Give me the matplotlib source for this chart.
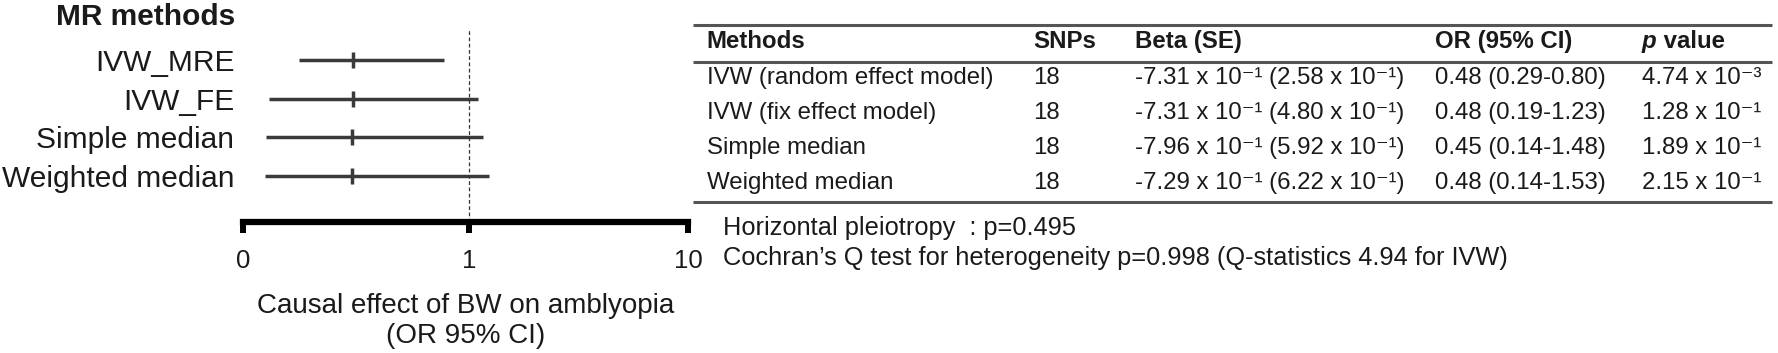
import matplotlib
matplotlib.use("Agg")
import matplotlib.pyplot as plt
from matplotlib.ticker import NullLocator

plt.rcParams['font.family'] = ['Liberation Sans', 'DejaVu Sans']

# forest plot
mr_methods = ['IVW_MRE', 'IVW_FE', 'Simple median', 'Weighted median']
est = [0.489, 0.489, 0.482, 0.482]
ci_low = [0.250, 0.118, 0.103, 0.097]
ci_high = [0.891, 1.10, 1.153, 1.228]
xticks = [0, 1, 10]

# table
tab_methods = ['IVW (random effect model)', 'IVW (fix effect model)',
               'Simple median', 'Weighted median']
snps = [18, 18, 18, 18]
beta = [-7.31, -7.31, -7.96, -7.29]
beta_exp = [-1, -1, -1, -1]
se = [2.58, 4.80, 5.92, 6.22]
se_exp = [-1, -1, -1, -1]
odds = [0.48, 0.48, 0.45, 0.48]
or_lo = [0.29, 0.19, 0.14, 0.14]
or_hi = [0.80, 1.23, 1.48, 1.53]
pval = [4.74, 1.28, 1.89, 2.15]
pval_exp = [-3, -1, -1, -1]
notes = ['Horizontal pleiotropy  : p=0.495',
         'Cochran\u2019s Q test for heterogeneity p=0.998 (Q-statistics 4.94 for IVW)']

SUP = str.maketrans('-0123456789', '\u207b\u2070\u00b9\u00b2\u00b3\u2074\u2075\u2076\u2077\u2078\u2079')


def sci(m, e):
    return '%.2f x 10%s' % (m, str(e).translate(SUP))


W, H = 1778, 353
fig = plt.figure(figsize=(W / 100, H / 100), dpi=100)
txt = '#1a1a1a'
lc = '#3a3a3a'

# ---- forest plot ----
x0, x10, ytop, yax = 242.7, 688, 25, 221.7
ax = fig.add_axes([x0 / W, 1 - yax / H, (x10 - x0) / W, (yax - ytop) / H])
rows = list(range(len(mr_methods)))
ax.set_xscale('symlog', linthresh=1, linscale=0.93)
ax.set_xlim(0, 10)
ax.set_ylim(4.18, -0.905)
ax.hlines(rows, ci_low, ci_high, color=lc, lw=2.5)
ax.plot(est, rows, ls='none', marker='|', ms=11, mew=2.5, color=lc)
ax.axvline(1, ymin=0, ymax=0.975, color='#333333', lw=0.9, ls=(0, (3, 2)))

ax.set_xticks(xticks, [str(v) for v in xticks], fontsize=18.5, color=txt)
ax.xaxis.set_minor_locator(NullLocator())
ax.tick_params(axis='x', length=8, width=4.3, pad=12, color='black')
ax.set_yticks(rows, mr_methods, fontsize=21.5, color=txt)
ax.tick_params(axis='y', length=0, pad=6)
for s in ['top', 'right', 'left']:
    ax.spines[s].set_visible(False)
ax.spines['bottom'].set_linewidth(4.5)
ax.spines['bottom'].set_color('black')
ax.set_xlabel('Causal effect of BW on amblyopia\n(OR 95% CI)', fontsize=20,
              color=txt, labelpad=14, linespacing=1.2)
fig.text(235 / W, 1 - 17 / H, 'MR methods', ha='right', va='center',
         fontsize=21.5, weight='bold', color=txt)

# ---- table ----
at = fig.add_axes([0, 0, 1, 1], zorder=-1)
at.set_xlim(0, W)
at.set_ylim(H, 0)
at.axis('off')
at.hlines([25, 61.7, 201.7], 693, 1772, color='#555555', lw=2.2)

col_x = [706.7, 1033, 1135, 1435, 1642]
fs = 17.3
hy = 41.7
for cx, h in zip(col_x[:4], ['Methods', 'SNPs', 'Beta (SE)', 'OR (95% CI)']):
    at.text(cx, hy, h, ha='left', va='center', fontsize=fs, weight='bold', color=txt)
tp = at.text(col_x[4], hy, 'p', ha='left', va='center', fontsize=fs,
             weight='bold', style='italic', color=txt)
at.annotate(' value', xy=(1, 0.5), xycoords=tp, va='center', ha='left',
            fontsize=fs, weight='bold', color=txt)

for i in range(len(tab_methods)):
    y = 78.3 + 34.8 * i
    beta_s = '%s (%s)' % (sci(beta[i], beta_exp[i]), sci(se[i], se_exp[i]))
    or_s = '%.2f (%.2f-%.2f)' % (odds[i], or_lo[i], or_hi[i])
    p_s = sci(pval[i], pval_exp[i])
    for cx, s in zip(col_x, [tab_methods[i], str(snps[i]), beta_s, or_s, p_s]):
        at.text(cx, y, s, ha='left', va='center', fontsize=fs, color=txt)

for j, n in enumerate(notes):
    at.text(723, 228 + 30 * j, n, ha='left', va='center', fontsize=18.3, color=txt)

fig.savefig('out.png', dpi=100)
